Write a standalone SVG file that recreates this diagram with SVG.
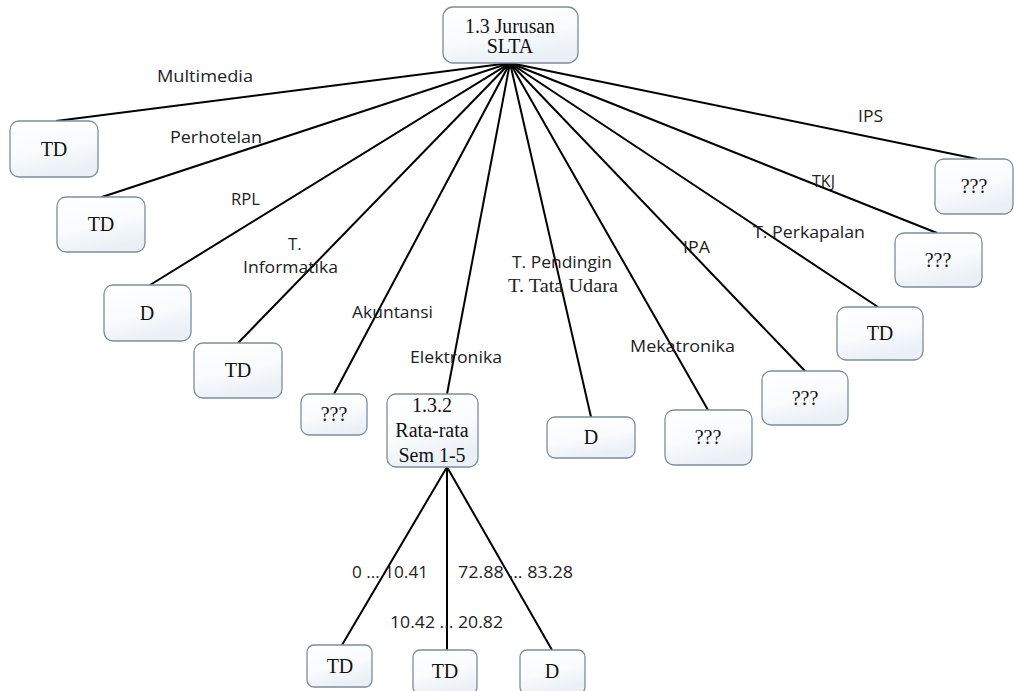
<svg xmlns="http://www.w3.org/2000/svg" width="1014" height="691" viewBox="0 0 1014 691">
  <defs>
    <linearGradient id="boxFill" x1="0" y1="0" x2="0.35" y2="1">
      <stop offset="0" stop-color="#ffffff"/>
      <stop offset="0.6" stop-color="#f9fbfd"/>
      <stop offset="1" stop-color="#eaf0f6"/>
    </linearGradient>
  </defs>
  <style>
    .box { fill: url(#boxFill); stroke: #7f8d9b; stroke-width: 1.3; }
    .nt { font-family: "Liberation Serif", "Times New Roman", serif; font-size: 20px; fill: #111; text-anchor: middle; }
    .lb { font-family: "Open Sans", "Liberation Sans", sans-serif; font-size: 17px; fill: #222; }
    .lbs { font-family: "Liberation Serif", "Times New Roman", serif; font-size: 19px; fill: #222; }
    .edge { stroke: #000; stroke-width: 2; fill: none; }
  </style>
  <rect width="1014" height="691" fill="#ffffff"/>

  <!-- connectors -->
  <g id="connectors" class="edge">
    <line x1="510" y1="63" x2="56" y2="121"/>
    <line x1="510" y1="63" x2="102" y2="197"/>
    <line x1="510" y1="63" x2="150" y2="285"/>
    <line x1="510" y1="63" x2="238" y2="343"/>
    <line x1="510" y1="63" x2="334" y2="394"/>
    <line x1="510" y1="63" x2="447" y2="394"/>
    <line x1="510" y1="63" x2="591" y2="417"/>
    <line x1="510" y1="63" x2="708" y2="410"/>
    <line x1="510" y1="63" x2="805" y2="371"/>
    <line x1="510" y1="63" x2="878" y2="307"/>
    <line x1="510" y1="63" x2="937" y2="233"/>
    <line x1="510" y1="63" x2="977" y2="159"/>
    <line x1="447" y1="467" x2="342" y2="645"/>
    <line x1="447" y1="467" x2="447" y2="650"/>
    <line x1="447" y1="467" x2="552" y2="650"/>
  </g>

  <!-- edge labels -->
  <g id="edge-labels">
    <text class="lb" x="157" y="82" textLength="96" lengthAdjust="spacingAndGlyphs">Multimedia</text>
    <text class="lb" x="170" y="143" textLength="92" lengthAdjust="spacingAndGlyphs">Perhotelan</text>
    <text class="lb" x="231" y="205" textLength="29" lengthAdjust="spacingAndGlyphs">RPL</text>
    <text class="lb" x="288" y="250">T.</text>
    <text class="lb" x="243" y="273" textLength="95" lengthAdjust="spacingAndGlyphs">Informatika</text>
    <text class="lb" x="352" y="318" textLength="81" lengthAdjust="spacingAndGlyphs">Akuntansi</text>
    <text class="lb" x="410" y="363" textLength="92" lengthAdjust="spacingAndGlyphs">Elektronika</text>
    <text class="lb" x="512" y="268" textLength="100" lengthAdjust="spacingAndGlyphs">T. Pendingin</text>
    <text class="lbs" x="508" y="292" textLength="110" lengthAdjust="spacingAndGlyphs">T. Tata Udara</text>
    <text class="lb" x="630" y="352" textLength="105" lengthAdjust="spacingAndGlyphs">Mekatronika</text>
    <text class="lb" x="683" y="253" textLength="27" lengthAdjust="spacingAndGlyphs">IPA</text>
    <text class="lb" x="753" y="238" textLength="112" lengthAdjust="spacingAndGlyphs">T. Perkapalan</text>
    <text class="lb" x="812" y="187" textLength="23" lengthAdjust="spacingAndGlyphs">TKJ</text>
    <text class="lb" x="858" y="122" textLength="25" lengthAdjust="spacingAndGlyphs">IPS</text>
    <text class="lb" x="352" y="578" textLength="76" lengthAdjust="spacingAndGlyphs">0 ... 10.41</text>
    <text class="lb" x="458" y="578" textLength="115" lengthAdjust="spacingAndGlyphs">72.88 ... 83.28</text>
    <text class="lb" x="390" y="628" textLength="113" lengthAdjust="spacingAndGlyphs">10.42 ... 20.82</text>
  </g>

  <!-- nodes -->
  <g id="root">
    <rect class="box" x="443" y="7" width="135" height="56" rx="10"/>
    <text class="nt" x="510" y="33" textLength="90" lengthAdjust="spacingAndGlyphs">1.3 Jurusan</text>
    <text class="nt" x="510" y="53">SLTA</text>
  </g>
  <g id="n-multimedia">
    <rect class="box" x="10" y="121" width="88" height="56" rx="9"/>
    <text class="nt" x="54" y="156">TD</text>
  </g>
  <g id="n-perhotelan">
    <rect class="box" x="57" y="197" width="88" height="55" rx="9"/>
    <text class="nt" x="101" y="231">TD</text>
  </g>
  <g id="n-rpl">
    <rect class="box" x="104" y="285" width="87" height="56" rx="9"/>
    <text class="nt" x="147" y="320">D</text>
  </g>
  <g id="n-informatika">
    <rect class="box" x="194" y="343" width="88" height="55" rx="9"/>
    <text class="nt" x="238" y="377">TD</text>
  </g>
  <g id="n-akuntansi">
    <rect class="box" x="301" y="394" width="66" height="41" rx="8"/>
    <text class="nt" x="334" y="421">???</text>
  </g>
  <g id="n-rata-rata">
    <rect class="box" x="387" y="394" width="91" height="73" rx="9"/>
    <text class="nt" x="432" y="412">1.3.2</text>
    <text class="nt" x="432" y="437">Rata-rata</text>
    <text class="nt" x="432" y="462">Sem 1-5</text>
  </g>
  <g id="n-pendingin">
    <rect class="box" x="547" y="417" width="88" height="41" rx="8"/>
    <text class="nt" x="591" y="444">D</text>
  </g>
  <g id="n-mekatronika">
    <rect class="box" x="665" y="410" width="87" height="55" rx="9"/>
    <text class="nt" x="708" y="444">???</text>
  </g>
  <g id="n-ipa">
    <rect class="box" x="762" y="371" width="86" height="54" rx="9"/>
    <text class="nt" x="805" y="405">???</text>
  </g>
  <g id="n-perkapalan">
    <rect class="box" x="837" y="307" width="86" height="53" rx="9"/>
    <text class="nt" x="880" y="340">TD</text>
  </g>
  <g id="n-tkj">
    <rect class="box" x="895" y="233" width="87" height="54" rx="9"/>
    <text class="nt" x="938" y="267">???</text>
  </g>
  <g id="n-ips">
    <rect class="box" x="935" y="159" width="78" height="55" rx="9"/>
    <text class="nt" x="974" y="193">???</text>
  </g>
  <g id="n-range-1">
    <rect class="box" x="307" y="645" width="65" height="42" rx="7"/>
    <text class="nt" x="340" y="673">TD</text>
  </g>
  <g id="n-range-2">
    <rect class="box" x="413" y="650" width="64" height="44" rx="7"/>
    <text class="nt" x="445" y="678">TD</text>
  </g>
  <g id="n-range-3">
    <rect class="box" x="520" y="650" width="65" height="44" rx="7"/>
    <text class="nt" x="552" y="678">D</text>
  </g>
</svg>
